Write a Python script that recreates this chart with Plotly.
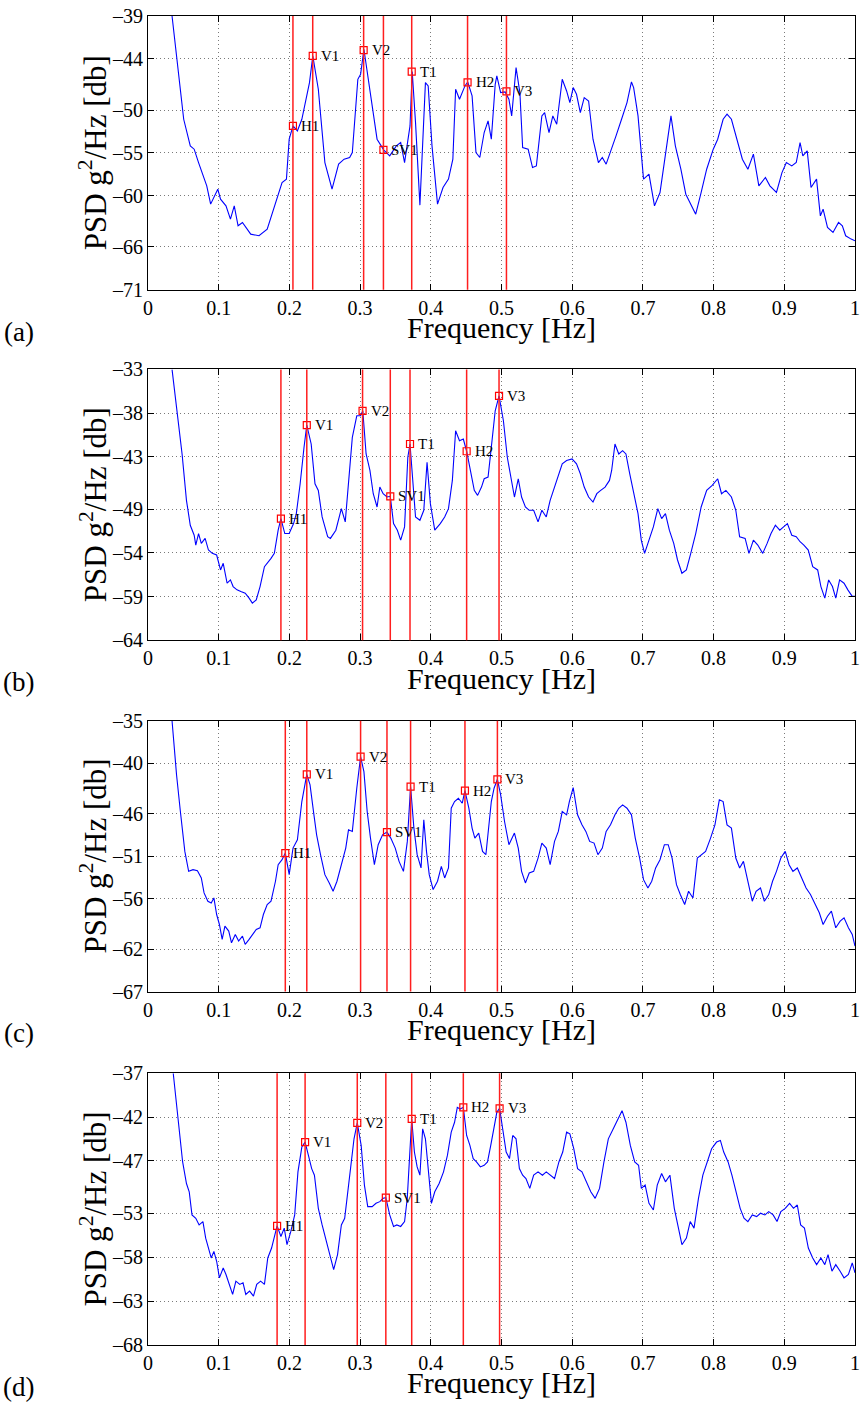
import plotly.graph_objects as go

# ---------------- data ----------------
freq_a = [0.034,0.0505,0.0598,0.0653,0.0715,0.0831,0.0886,0.0987,0.1026,0.1103,0.1166,0.1220,0.1274,0.1336,0.1453,0.1570,0.1686,0.1764,0.1841,0.1896,0.1958,0.1997,0.2051,0.2113,0.2176,0.2230,0.2284,0.2331,0.2409,0.2502,0.2603,0.2696,0.2774,0.2852,0.2890,0.2968,0.3007,0.3054,0.3139,0.3240,0.3333,0.3419,0.3512,0.3574,0.3629,0.3706,0.3737,0.3784,0.3846,0.3901,0.3924,0.3963,0.4017,0.4095,0.4173,0.4250,0.4312,0.4351,0.4406,0.4483,0.4522,0.4584,0.4639,0.4693,0.4755,0.4810,0.4856,0.4911,0.4934,0.4988,0.5051,0.5105,0.5144,0.5206,0.5260,0.5299,0.5377,0.5439,0.5493,0.5571,0.5610,0.5672,0.5726,0.5781,0.5859,0.5921,0.5967,0.6014,0.6061,0.6115,0.6170,0.6232,0.6294,0.6371,0.6426,0.6480,0.6542,0.6620,0.6698,0.6775,0.6838,0.6869,0.6931,0.7009,0.7086,0.7164,0.7242,0.7335,0.7397,0.7459,0.7537,0.7607,0.7692,0.7747,0.7824,0.7902,0.7995,0.8058,0.8135,0.8190,0.8252,0.8330,0.8407,0.8485,0.8563,0.8640,0.8733,0.8796,0.8889,0.8967,0.9029,0.9106,0.9169,0.9223,0.9262,0.9324,0.9378,0.9456,0.9510,0.9549,0.9611,0.9689,0.9767,0.9821,0.9868,0.9946,1.0]
psd_a = [-39.0,-51.07,-54.18,-54.57,-56.13,-58.85,-60.99,-59.24,-60.41,-61.19,-62.74,-61.19,-63.52,-63.13,-64.50,-64.69,-63.91,-61.97,-60.02,-58.46,-58.07,-53.40,-51.85,-52.43,-51.07,-48.73,-46.79,-43.67,-47.56,-56.13,-59.24,-56.32,-55.74,-55.54,-54.96,-46.40,-45.81,-42.89,-47.56,-53.40,-54.65,-55.35,-54.18,-53.79,-56.13,-51.85,-45.50,-51.46,-61.11,-51.07,-46.79,-47.17,-54.18,-60.99,-59.05,-58.07,-55.74,-47.56,-48.73,-47.17,-46.71,-48.34,-54.96,-55.54,-52.62,-51.26,-53.40,-46.98,-46.01,-47.95,-47.88,-48.73,-50.68,-45.03,-47.95,-54.38,-54.57,-56.71,-56.52,-50.68,-50.29,-52.62,-50.68,-51.65,-46.40,-47.76,-49.12,-47.37,-48.15,-50.29,-48.54,-48.93,-53.40,-56.13,-55.54,-56.32,-54.96,-53.01,-51.07,-49.12,-46.71,-47.37,-50.68,-58.07,-57.49,-61.19,-59.63,-54.57,-50.68,-54.18,-56.91,-59.83,-61.19,-62.16,-59.63,-56.91,-54.57,-53.40,-51.07,-50.48,-51.07,-53.40,-55.74,-56.91,-55.15,-58.85,-57.88,-58.85,-59.63,-57.30,-56.13,-56.52,-56.13,-53.79,-55.35,-54.77,-59.05,-58.07,-62.36,-61.58,-63.72,-64.30,-63.13,-63.52,-64.69,-65.08,-65.27]

freq_b = [0.034,0.042,0.0482,0.0544,0.0598,0.0653,0.0676,0.0715,0.0754,0.0808,0.0855,0.0909,0.0971,0.1026,0.1064,0.1119,0.1166,0.1204,0.1259,0.1313,0.1375,0.1430,0.1476,0.1531,0.1585,0.1647,0.1686,0.1740,0.1787,0.1841,0.1880,0.1935,0.1997,0.2059,0.2098,0.2152,0.2207,0.2246,0.2308,0.2362,0.2409,0.2463,0.2541,0.2580,0.2657,0.2735,0.2790,0.2836,0.2890,0.2953,0.3007,0.3038,0.3085,0.3139,0.3186,0.3240,0.3279,0.3326,0.3380,0.3427,0.3473,0.3527,0.3574,0.3629,0.3675,0.3706,0.3745,0.3784,0.3846,0.3901,0.3947,0.3994,0.4056,0.4134,0.4196,0.4250,0.4305,0.4351,0.4406,0.4460,0.4507,0.4561,0.4615,0.4662,0.4717,0.4755,0.4810,0.4856,0.4911,0.4965,0.5027,0.5082,0.5128,0.5183,0.5237,0.5284,0.5338,0.5392,0.5455,0.5517,0.5571,0.5633,0.5688,0.5750,0.5804,0.5859,0.5921,0.5998,0.6061,0.6115,0.6170,0.6232,0.6294,0.6348,0.6403,0.6465,0.6527,0.6558,0.6605,0.6659,0.6713,0.6760,0.6814,0.6869,0.6931,0.6977,0.7024,0.7086,0.7148,0.7211,0.7265,0.7319,0.7374,0.7436,0.7490,0.7552,0.7615,0.7677,0.7747,0.7824,0.7902,0.7980,0.8058,0.8112,0.8174,0.8252,0.8314,0.8368,0.8446,0.8500,0.8563,0.8625,0.8695,0.8757,0.8812,0.8874,0.8936,0.8990,0.9044,0.9106,0.9169,0.9223,0.9277,0.9339,0.9402,0.9472,0.9518,0.9573,0.9627,0.9681,0.9728,0.9782,0.9845,0.9899,0.9961,1.0]
psd_b = [-33.0,-38.5,-42.68,-47.99,-50.84,-51.98,-53.11,-51.79,-52.92,-52.35,-53.68,-54.06,-54.25,-55.96,-55.20,-57.48,-57.10,-57.86,-58.24,-58.43,-58.62,-59.19,-59.76,-59.38,-57.86,-55.58,-55.20,-54.63,-54.06,-51.41,-50.08,-51.79,-51.79,-50.65,-49.51,-46.09,-41.92,-39.38,-41.54,-46.09,-46.85,-49.89,-52.16,-52.35,-51.41,-48.94,-50.46,-45.71,-40.78,-38.31,-38.31,-37.74,-42.68,-44.57,-47.23,-48.75,-46.47,-47.23,-47.61,-47.53,-50.65,-51.41,-52.54,-51.03,-43.06,-41.54,-45.71,-49.89,-50.27,-49.13,-43.63,-48.37,-51.41,-50.65,-49.89,-48.94,-45.71,-40.02,-41.16,-40.97,-42.37,-44.57,-46.85,-47.42,-46.47,-45.52,-45.33,-41.92,-37.74,-36.04,-38.88,-43.06,-45.33,-47.61,-45.52,-47.61,-48.75,-49.13,-49.13,-50.46,-49.13,-49.89,-47.99,-46.47,-44.95,-43.82,-43.44,-43.25,-43.82,-44.95,-46.47,-47.61,-48.18,-47.23,-46.85,-46.47,-45.71,-44.57,-41.54,-42.68,-42.30,-42.68,-44.95,-47.23,-49.51,-52.54,-54.06,-52.54,-51.03,-48.94,-50.08,-49.51,-51.41,-52.92,-54.82,-56.34,-55.96,-54.06,-51.79,-48.75,-46.85,-46.28,-45.52,-47.23,-46.85,-47.61,-49.13,-52.16,-52.35,-54.06,-52.54,-53.11,-54.06,-52.92,-51.79,-50.84,-51.41,-51.03,-50.65,-51.98,-52.16,-52.73,-53.11,-53.68,-55.58,-55.96,-57.86,-59.19,-57.10,-57.86,-59.19,-57.10,-57.48,-58.24,-58.99,-58.99]

freq_c = [0.034,0.0404,0.0458,0.0521,0.0575,0.0637,0.0699,0.0754,0.0793,0.0847,0.0894,0.0932,0.0971,0.1010,0.1049,0.1088,0.1142,0.1181,0.1235,0.1282,0.1336,0.1375,0.1430,0.1476,0.1531,0.1585,0.1632,0.1686,0.1740,0.1803,0.1841,0.1896,0.1942,0.1997,0.2051,0.2113,0.2176,0.2246,0.2292,0.2347,0.2385,0.2440,0.2502,0.2564,0.2618,0.2673,0.2735,0.2797,0.2836,0.2890,0.2953,0.3007,0.3054,0.3100,0.3147,0.3202,0.3256,0.3318,0.3380,0.3434,0.3497,0.3551,0.3613,0.3668,0.3714,0.3761,0.3807,0.3862,0.3901,0.3939,0.3978,0.4033,0.4095,0.4149,0.4196,0.4250,0.4289,0.4336,0.4390,0.4445,0.4483,0.4538,0.4584,0.4623,0.4678,0.4732,0.4779,0.4817,0.4856,0.4895,0.4942,0.4988,0.5043,0.5105,0.5183,0.5237,0.5284,0.5338,0.5392,0.5455,0.5517,0.5571,0.5633,0.5688,0.5750,0.5804,0.5859,0.5921,0.5960,0.6014,0.6076,0.6138,0.6193,0.6247,0.6309,0.6364,0.6426,0.6480,0.6542,0.6605,0.6659,0.6713,0.6775,0.6838,0.6892,0.6954,0.7009,0.7071,0.7125,0.7180,0.7242,0.7304,0.7358,0.7413,0.7475,0.7529,0.7591,0.7646,0.7708,0.7770,0.7824,0.7887,0.7957,0.8019,0.8081,0.8135,0.8190,0.8252,0.8314,0.8368,0.8422,0.8485,0.8547,0.8601,0.8663,0.8718,0.8780,0.8834,0.8889,0.8951,0.9013,0.9068,0.9122,0.9184,0.9246,0.9308,0.9370,0.9433,0.9495,0.9549,0.9611,0.9666,0.9728,0.9790,0.9845,0.9907,0.9961,1.0]
psd_c = [-35.0,-41.40,-45.72,-50.43,-52.79,-52.59,-52.71,-53.57,-55.34,-56.32,-56.52,-55.93,-57.89,-59.07,-60.83,-59.26,-59.85,-61.23,-60.25,-61.03,-60.44,-61.42,-60.83,-60.25,-59.66,-59.46,-57.89,-56.71,-56.32,-53.96,-52.00,-51.41,-50.63,-53.18,-50.04,-49.06,-44.54,-41.32,-42.58,-46.11,-48.47,-50.82,-53.18,-54.16,-55.14,-53.96,-52.00,-50.04,-47.88,-48.07,-42.97,-39.24,-41.01,-45.72,-48.86,-52.00,-49.64,-48.47,-48.15,-48.86,-50.04,-51.61,-52.79,-49.25,-42.77,-47.68,-50.82,-52.39,-46.70,-50.43,-53.18,-54.94,-53.96,-52.20,-53.57,-52.39,-45.33,-44.54,-44.15,-44.74,-43.25,-45.33,-47.68,-48.86,-48.27,-50.43,-50.82,-47.68,-44.54,-42.97,-41.91,-43.76,-46.90,-49.64,-48.27,-50.04,-52.79,-54.16,-52.98,-52.79,-51.22,-49.45,-50.04,-52.00,-49.25,-48.07,-45.72,-46.11,-44.54,-42.89,-46.11,-47.29,-48.07,-49.25,-49.45,-50.82,-50.04,-48.07,-47.29,-46.11,-45.33,-44.93,-45.33,-46.11,-48.86,-51.22,-53.77,-54.75,-53.96,-52.39,-51.41,-49.64,-49.64,-51.22,-54.36,-55.53,-56.71,-55.14,-55.93,-51.22,-50.82,-50.43,-48.86,-47.29,-44.34,-44.54,-47.29,-47.68,-51.22,-52.39,-51.61,-53.96,-56.32,-55.14,-54.75,-56.32,-55.53,-53.96,-52.79,-51.22,-50.43,-52.00,-52.79,-52.39,-53.57,-54.75,-55.53,-56.71,-57.69,-59.07,-58.09,-57.50,-59.46,-58.68,-58.28,-59.46,-60.25,-61.62]

freq_d = [0.0357,0.0427,0.0490,0.0544,0.0583,0.0622,0.0676,0.0723,0.0777,0.0816,0.0855,0.0894,0.0932,0.0971,0.1010,0.1064,0.1103,0.1150,0.1197,0.1243,0.1298,0.1344,0.1383,0.1437,0.1492,0.1538,0.1593,0.1647,0.1694,0.1748,0.1787,0.1826,0.1880,0.1927,0.1966,0.2020,0.2075,0.2121,0.2176,0.2222,0.2269,0.2315,0.2354,0.2409,0.2463,0.2510,0.2564,0.2626,0.2681,0.2735,0.2782,0.2821,0.2860,0.2914,0.2960,0.3015,0.3061,0.3108,0.3170,0.3225,0.3279,0.3326,0.3364,0.3419,0.3473,0.3520,0.3574,0.3629,0.3667,0.3698,0.3730,0.3768,0.3807,0.3846,0.3885,0.3924,0.3963,0.4009,0.4056,0.4118,0.4180,0.4235,0.4289,0.4336,0.4375,0.4414,0.4460,0.4507,0.4553,0.4600,0.4646,0.4701,0.4755,0.4802,0.4848,0.4895,0.4934,0.4973,0.5019,0.5066,0.5113,0.5159,0.5206,0.5253,0.5299,0.5346,0.5400,0.5455,0.5517,0.5579,0.5633,0.5695,0.5750,0.5812,0.5866,0.5921,0.5967,0.6022,0.6076,0.6138,0.6200,0.6263,0.6325,0.6387,0.6449,0.6511,0.6581,0.6643,0.6705,0.6760,0.6822,0.6884,0.6939,0.6978,0.7032,0.7086,0.7148,0.7203,0.7265,0.7319,0.7382,0.7444,0.7498,0.7552,0.7615,0.7669,0.7723,0.7786,0.7848,0.7910,0.7972,0.8042,0.8096,0.8143,0.8205,0.8259,0.8314,0.8376,0.8430,0.8485,0.8547,0.8609,0.8663,0.8726,0.8780,0.8842,0.8897,0.8951,0.9013,0.9075,0.9130,0.9184,0.9231,0.9285,0.9340,0.9402,0.9457,0.9518,0.9573,0.9619,0.9674,0.9728,0.9790,0.9845,0.9907,0.9961,1.0]
psd_d = [-37.0,-42.21,-47.12,-49.58,-50.52,-53.16,-53.54,-54.30,-53.92,-55.81,-56.94,-58.07,-57.32,-58.45,-60.34,-59.21,-59.96,-61.09,-62.23,-60.72,-61.09,-60.91,-62.23,-61.85,-62.42,-61.09,-60.72,-61.09,-58.07,-56.94,-55.81,-54.41,-55.62,-54.67,-56.56,-55.05,-53.16,-48.25,-45.42,-44.85,-46.37,-47.88,-48.63,-52.41,-54.30,-55.81,-57.69,-59.39,-57.69,-54.30,-53.54,-50.90,-48.25,-44.48,-42.66,-45.23,-49.76,-52.22,-52.22,-51.84,-51.65,-51.27,-51.20,-53.16,-54.48,-54.30,-54.48,-53.92,-51.27,-45.99,-42.21,-45.99,-47.69,-48.63,-43.34,-44.48,-47.50,-51.84,-50.52,-49.58,-48.25,-46.37,-43.72,-42.59,-40.89,-41.08,-40.89,-44.10,-45.23,-46.74,-47.12,-47.69,-47.50,-47.12,-45.23,-42.97,-41.46,-41.00,-43.34,-45.99,-46.74,-44.10,-44.48,-47.88,-48.63,-49.01,-50.14,-48.63,-48.25,-48.63,-48.25,-48.63,-49.01,-47.12,-45.99,-43.72,-43.91,-45.61,-47.88,-48.25,-49.39,-50.52,-51.27,-50.14,-47.12,-44.48,-43.34,-42.21,-41.27,-42.59,-45.23,-47.12,-47.50,-50.14,-49.76,-51.84,-52.60,-49.76,-48.44,-49.39,-48.63,-52.41,-54.67,-56.56,-55.81,-53.92,-54.67,-51.27,-48.63,-47.12,-45.61,-44.85,-44.67,-45.99,-47.12,-48.63,-50.52,-52.41,-53.54,-53.92,-53.16,-53.35,-52.97,-53.16,-52.79,-53.16,-53.92,-52.79,-52.41,-51.84,-52.41,-52.03,-54.30,-54.67,-56.94,-58.07,-58.83,-58.07,-58.83,-57.69,-59.58,-58.83,-59.58,-60.34,-59.96,-58.64,-59.77]

mode_names = ["H1", "V1", "V2", "SV1", "T1", "H2", "V3"]
mode_f_a = [0.205, 0.233, 0.305, 0.333, 0.373, 0.452, 0.507]
mode_p_a = [-51.85, -43.67, -43.0, -54.65, -45.5, -46.75, -47.8]
mode_f_b = [0.188, 0.2246, 0.3035, 0.3427, 0.3706, 0.4507, 0.4965]
mode_p_b = [-50.08, -39.38, -37.74, -47.53, -41.54, -42.37, -36.04]
mode_f_c = [0.1942, 0.2246, 0.3007, 0.338, 0.3714, 0.4483, 0.4942]
mode_p_c = [-50.63, -41.32, -39.24, -48.15, -42.77, -43.25, -41.91]
mode_f_d = [0.1826, 0.2222, 0.296, 0.3364, 0.373, 0.446, 0.4973]
mode_p_d = [-54.41, -44.85, -42.66, -51.2, -42.21, -40.89, -41.0]

yticks_a = [-71, -66, -60, -55, -50, -44, -39]
yticks_b = [-64, -59, -54, -49, -43, -38, -33]
yticks_c = [-67, -62, -56, -51, -46, -40, -35]
yticks_d = [-68, -63, -58, -53, -47, -42, -37]
xticks = [0, 0.1, 0.2, 0.3, 0.4, 0.5, 0.6, 0.7, 0.8, 0.9, 1]
xtick_text = ["0", "0.1", "0.2", "0.3", "0.4", "0.5", "0.6", "0.7", "0.8", "0.9", "1"]
panel_letters = ["(a)", "(b)", "(c)", "(d)"]

# ---------------- layout helpers ----------------
W, H = 865, 1410
ML, MR, MT, MB = 148, 5, 10, 65
PH = H - MT - MB

def py(ypx):
    return (H - MB - ypx) / PH

def px(xpx):
    return (xpx - ML) / (W - ML - MR)

panels = [
    (freq_a, psd_a, mode_f_a, mode_p_a, yticks_a, 10, 285),
    (freq_b, psd_b, mode_f_b, mode_p_b, yticks_b, 365, 637),
    (freq_c, psd_c, mode_f_c, mode_p_c, yticks_c, 718, 990),
    (freq_d, psd_d, mode_f_d, mode_p_d, yticks_d, 1072, 1345),
]

SERIF = "Liberation Serif, Times New Roman, serif"
fig = go.Figure()
layout = dict(
    width=W, height=H,
    margin=dict(l=ML, r=MR, t=MT, b=MB),
    paper_bgcolor="white", plot_bgcolor="white",
    showlegend=False,
    font=dict(family=SERIF, color="black", size=20),
)
annotations = []
shapes = []

for i, (fr, ps, mf, mp, yt, top, bot) in enumerate(panels):
    n = i + 1
    xa = "x" if n == 1 else f"x{n}"
    ya = "y" if n == 1 else f"y{n}"
    xkey = "xaxis" if n == 1 else f"xaxis{n}"
    ykey = "yaxis" if n == 1 else f"yaxis{n}"

    # vertical mode lines
    for f in mf:
        shapes.append(dict(type="line", xref=xa, yref=f"{ya} domain",
                           x0=f, x1=f, y0=0, y1=1,
                           line=dict(color="rgb(255,30,30)", width=1.5),
                           layer="above"))

    fig.add_trace(go.Scatter(x=fr, y=ps, mode="lines", xaxis=xa, yaxis=ya,
                             line=dict(color="#0000ff", width=1.1),
                             hoverinfo="skip", cliponaxis=True))
    fig.add_trace(go.Scatter(x=mf, y=mp, mode="markers", xaxis=xa, yaxis=ya,
                             marker=dict(symbol="square-open", size=7,
                                         color="#ff0000", line=dict(width=1.2)),
                             hoverinfo="skip"))
    for name, f, p in zip(mode_names, mf, mp):
        annotations.append(dict(x=f, y=p, xref=xa, yref=ya, text=name,
                                showarrow=False, xanchor="left", yanchor="middle",
                                xshift=6, font=dict(family=SERIF, size=15, color="black")))

    common = dict(showline=True, linecolor="black", linewidth=1, mirror="allticks",
                  ticks="inside", ticklen=6, tickcolor="black", tickwidth=1,
                  showgrid=True, gridcolor="#7a7a7a", griddash="1px,3px", gridwidth=1,
                  zeroline=False, tickfont=dict(family=SERIF, size=20, color="black"))
    layout[xkey] = dict(domain=[0, 1], anchor=ya, range=[0, 1],
                        tickvals=xticks, ticktext=xtick_text, **common)
    layout[ykey] = dict(domain=[py(bot), py(top)], anchor=xa,
                        range=[min(yt), max(yt)], tickvals=yt,
                        ticktext=["\u2013" + str(abs(v)) for v in yt], **common)

    mid = (top + bot) / 2
    annotations.append(dict(x=px(93), y=py(mid), xref="paper", yref="paper",
                            text="PSD g<sup>2</sup>/Hz [db]", textangle=-90,
                            showarrow=False, xanchor="center", yanchor="middle",
                            font=dict(family=SERIF, size=31, color="black")))
    annotations.append(dict(x=px(504), y=py(bot + 38), xref="paper", yref="paper",
                            text="Frequency [Hz]", showarrow=False,
                            xanchor="center", yanchor="middle",
                            font=dict(family=SERIF, size=30, color="black")))
    annotations.append(dict(x=px(18), y=py(bot + 42), xref="paper", yref="paper",
                            text=panel_letters[i], showarrow=False,
                            xanchor="center", yanchor="middle",
                            font=dict(family=SERIF, size=27, color="black")))

layout["annotations"] = annotations
layout["shapes"] = shapes
fig.update_layout(**layout)
fig.write_html("out.html")
